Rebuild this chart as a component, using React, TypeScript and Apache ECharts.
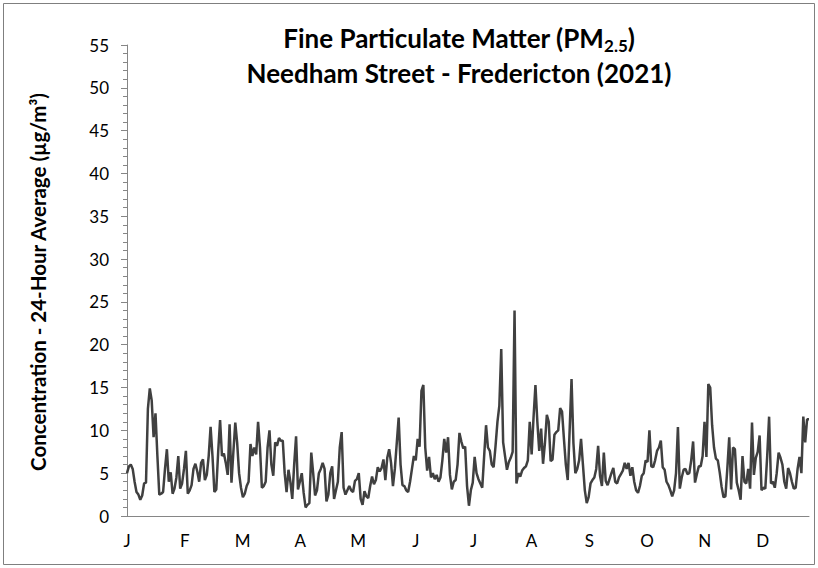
import React, { useEffect, useRef } from "react";
import * as echarts from "echarts";

const monthLetters = ["J", "F", "M", "A", "M", "J", "J", "A", "S", "O", "N", "D"];
const yTicks = { min: 0, max: 55, step: 5 };

const jan = [5.0,5.8,6.0,5.5,4.0,2.8,2.5,1.9,2.4,3.8,3.9,12.5,14.9,13.5,9.2,12.0,7.0,2.5,2.6,2.8,5.5,7.8,4.0,5.1,2.6,3.2,4.5,7.0,3.2,3.8,5.5];
const feb = [7.6,2.6,3.0,3.6,5.5,6.1,5.2,4.0,6.2,6.6,4.2,4.8,7.0,10.4,7.0,2.8,3.1,7.5,11.2,7.0,7.3,6.2,4.8,10.7,3.9,7.5,10.9,8.5];
const mar = [5.0,3.3,2.2,2.6,3.5,4.0,8.4,7.0,8.0,7.2,11.0,8.0,3.3,3.5,4.0,8.0,10.0,6.0,4.7,8.6,8.2,9.1,8.8,8.8,5.0,2.8,5.4,4.0,2.0,6.0,9.3];
const apr = [3.1,4.0,5.0,2.7,1.0,1.3,1.5,7.4,5.0,2.4,3.0,5.0,5.5,6.2,5.5,1.7,2.5,5.0,5.8,2.0,3.0,4.0,8.0,9.8,3.3,2.5,3.0,3.5,3.0,2.8];
const may = [4.1,4.3,5.0,2.0,1.3,2.9,2.3,2.1,3.5,4.6,3.7,4.2,5.7,5.2,5.6,6.6,4.2,6.8,7.8,6.2,3.5,5.5,8.5,11.5,6.0,3.6,3.5,3.0,2.8,4.0,5.5];
const jun = [7.0,6.5,9.0,8.1,14.6,15.3,8.0,5.3,6.9,4.5,5.0,4.3,4.8,4.0,4.5,6.5,9.0,7.4,9.2,4.8,3.1,4.0,4.2,6.0,9.7,8.7,7.9,8.1,3.5,1.2];
const jul = [3.0,3.9,6.9,5.0,4.3,3.8,3.3,7.0,10.6,8.0,7.6,6.0,5.7,8.2,11.0,12.9,19.5,8.6,7.0,5.4,6.3,6.8,7.5,24.0,3.8,5.0,4.6,5.3,5.6,5.8,6.5];
const aug = [11.0,7.2,11.5,15.3,11.0,7.6,10.2,6.1,8.5,11.8,11.0,6.4,6.6,9.5,9.8,10.0,12.6,12.2,9.0,6.0,4.2,10.0,16.0,8.5,5.0,5.5,6.5,9.0,6.0,3.0,1.5];
const sep = [2.2,3.8,4.2,4.5,5.5,8.2,4.7,3.5,7.4,4.1,3.6,4.3,5.0,5.6,4.0,3.8,4.5,4.9,5.3,6.2,5.5,6.2,4.7,5.7,4.0,3.0,2.7,3.5,4.7,5.0];
const oct = [6.5,6.3,10.0,5.8,5.7,6.5,7.6,8.0,8.8,5.7,5.4,4.0,3.6,3.0,2.3,3.0,5.0,10.4,3.2,4.5,5.4,5.5,4.9,5.0,6.5,8.7,3.9,4.9,5.8,5.8,7.0];
const nov = [11.0,6.9,15.4,15.0,10.6,8.0,6.7,6.5,5.1,3.4,2.2,2.3,5.5,9.2,3.1,8.0,7.8,3.9,3.0,1.9,7.0,4.0,3.8,5.5,3.2,10.9,4.8,6.8,7.5,9.4];
const dec = [3.0,3.3,3.2,7.0,11.6,3.8,4.0,3.3,5.0,7.4,6.8,6.0,4.0,3.2,5.6,5.0,4.0,3.2,3.3,5.5,6.9,5.0,11.6,8.6,11.3,11.3];

const daily = [...jan, ...feb, ...mar, ...apr, ...may, ...jun, ...jul, ...aug, ...sep, ...oct, ...nov, ...dec];
const monthStep = 365 / 12;

const FONT = "Lato, 'Noto Sans', sans-serif";

export default function App() {
  const ref = useRef<HTMLDivElement>(null);

  useEffect(() => {
    if (!ref.current) return;
    const chart = echarts.init(ref.current, null, { renderer: "svg" });
    chart.setOption({
      animation: false,
      backgroundColor: "#ffffff",
      textStyle: { fontFamily: FONT },
      grid: { left: 127, top: 45, right: 9, bottom: 52, containLabel: false },
      graphic: [
        {
          type: "rect",
          shape: { x: 3.5, y: 3.5, width: 811, height: 561 },
          style: { fill: "none", stroke: "#7f7f7f", lineWidth: 1 },
          silent: true,
        },
        {
          type: "text",
          x: 459,
          y: 38,
          style: {
            text: "{a|Fine Particulate Matter (PM}{s|2.5}{a|)}",
            align: "center",
            verticalAlign: "middle",
            fill: "#000",
            rich: {
              a: { fontFamily: FONT, fontSize: 26, fontWeight: "bold", fill: "#000", lineHeight: 31 },
              s: { fontFamily: FONT, fontSize: 17, fontWeight: "bold", fill: "#000", verticalAlign: "bottom", lineHeight: 14, padding: [11, 0, 0, 0] },
            },
          },
        },
        {
          type: "text",
          x: 459,
          y: 73,
          style: {
            text: "Needham Street - Fredericton (2021)",
            align: "center",
            verticalAlign: "middle",
            fill: "#000",
            fontFamily: FONT,
            fontSize: 26,
            fontWeight: "bold",
          },
        },
        {
          type: "text",
          x: 38,
          y: 282,
          rotation: Math.PI / 2,
          style: {
            text: "Concentration - 24-Hour Average (µg/m³)",
            align: "center",
            verticalAlign: "middle",
            fill: "#000",
            fontFamily: FONT,
            fontSize: 20.5,
            fontWeight: "bold",
          },
        },
      ],
      xAxis: {
        type: "value",
        min: 0,
        max: daily.length - 1,
        interval: monthStep,
        axisLine: { show: true, lineStyle: { color: "#868686", width: 1 } },
        axisTick: { show: false },
        splitLine: { show: false },
        axisLabel: {
          show: true,
          color: "#000",
          fontSize: 17,
          fontFamily: FONT,
          margin: 16,
          showMaxLabel: false,
          formatter: (v: number) => monthLetters[Math.round(v / monthStep)] ?? "",
        },
      },
      yAxis: {
        type: "value",
        min: yTicks.min,
        max: yTicks.max,
        interval: yTicks.step,
        axisLine: { show: true, lineStyle: { color: "#868686", width: 1 } },
        axisTick: { show: true, length: 6, inside: false, lineStyle: { color: "#868686" } },
        minorTick: { show: true, splitNumber: 5, length: 4, lineStyle: { color: "#868686" } },
        splitLine: { show: false },
        axisLabel: { color: "#000", fontSize: 17, fontFamily: FONT, margin: 18 },
      },
      series: [
        {
          type: "line",
          data: daily.map((v, i) => [i, v]),
          showSymbol: false,
          symbol: "none",
          lineStyle: { color: "#404040", width: 2.5 },
          itemStyle: { color: "#404040" },
        },
      ],
    });
    return () => chart.dispose();
  }, []);

  return (
    <div
      ref={ref}
      style={{ position: "absolute", left: 0, top: 0, width: 818, height: 568, background: "#fff" }}
    />
  );
}
